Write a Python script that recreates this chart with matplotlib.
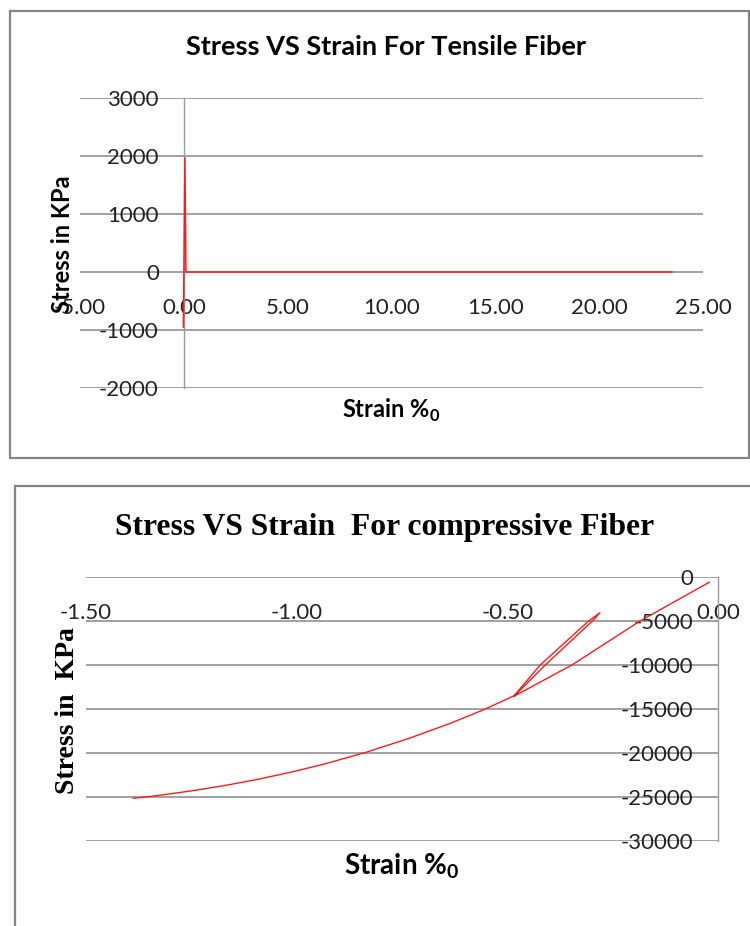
import matplotlib
matplotlib.use("Agg")
import matplotlib.pyplot as plt
from matplotlib.patches import Rectangle
from matplotlib.ticker import FixedLocator, StrMethodFormatter

W, H = 750, 926

# tensile fibre response (strain in per mille, stress in kPa)
tensile_strain = [-0.02, 0.05, 0.10, 23.5]
tensile_stress = [-950, 1970, 0, 0]

# compressive fibre response: loading, unload/reload loop, then softening branch
compressive_strain = [-0.021, -0.185, -0.345, -0.484, -0.410, -0.298, -0.280,
                      -0.307, -0.422, -0.484, -0.557, -0.636, -0.731, -0.834,
                      -0.933, -1.012, -1.091, -1.170, -1.249, -1.329, -1.388]
compressive_stress = [-600, -5000, -9950, -13550, -10000, -5000, -4060,
                      -5000, -10000, -13500, -15100, -16640, -18300, -19900,
                      -21240, -22160, -22980, -23690, -24300, -24830, -25150]

tensile_xticks = [-5, 0, 5, 10, 15, 20, 25]
tensile_yticks = [-2000, -1000, 0, 1000, 2000, 3000]
compressive_xticks = [-1.5, -1.0, -0.5, 0.0]
compressive_yticks = [-30000, -25000, -20000, -15000, -10000, -5000, 0]

plt.rcParams["font.family"] = ["Lato", "DejaVu Sans"]
plt.rcParams["mathtext.fontset"] = "custom"
plt.rcParams["mathtext.rm"] = "Lato"
plt.rcParams["mathtext.bf"] = "Lato:bold"
plt.rcParams["axes.unicode_minus"] = False

GRID = "#9a9a9a"
RED = "#ff1a1a"


def box(left, top, right, bottom):
    return [left / W, 1 - bottom / H, (right - left) / W, (bottom - top) / H]


def fx(x):
    return x / W


def fy(y):
    return 1 - y / H


def style_axes(ax, xticks, yticks, xlim, ylim):
    ax.set_xlim(*xlim)
    ax.set_ylim(*ylim)
    ax.xaxis.set_major_locator(FixedLocator(xticks))
    ax.yaxis.set_major_locator(FixedLocator(yticks))
    ax.xaxis.set_major_formatter(StrMethodFormatter("{x:.2f}"))
    ax.yaxis.set_major_formatter(StrMethodFormatter("{x:.0f}"))
    for side in ["top", "right", "bottom"]:
        ax.spines[side].set_visible(False)
    ax.spines["bottom"].set_position(("data", 0))
    ax.spines["left"].set_position(("data", 0))
    ax.spines["left"].set_color(GRID)
    ax.spines["left"].set_linewidth(1.0)
    ax.tick_params(length=0, labelsize=16, colors="#222222")
    ax.tick_params(axis="x", pad=19)
    ax.tick_params(axis="y", pad=18)
    ax.yaxis.grid(True, color=GRID, linewidth=1.3)
    ax.set_axisbelow(True)
    ax.patch.set_alpha(0)


fig = plt.figure(figsize=(W / 100, H / 100), dpi=100)

# chart frames
fig.patches.append(Rectangle((fx(10), fy(458)), fx(749) - fx(10), fy(11) - fy(458),
                             transform=fig.transFigure, fill=False,
                             edgecolor="#858585", linewidth=1.6))
fig.patches.append(Rectangle((fx(15), fy(940)), fx(760) - fx(15), fy(486) - fy(940),
                             transform=fig.transFigure, fill=False,
                             edgecolor="#858585", linewidth=1.6))

# tensile chart
ax1 = fig.add_axes(box(80, 98, 703, 388))
style_axes(ax1, tensile_xticks, tensile_yticks, (-5, 25), (-2000, 3000))
ax1.plot(tensile_strain, tensile_stress, color=RED, linewidth=1.1, zorder=3)
fig.text(fx(386), fy(47), "Stress VS Strain For Tensile Fiber", fontsize=19.5,
         fontweight="bold", ha="center", va="center")
fig.text(fx(62), fy(244), "Stress in KPa", fontsize=17, fontweight="bold",
         rotation=90, ha="center", va="center")
fig.text(fx(391), fy(410), r"Strain %$_\mathbf{0}$", fontsize=17, fontweight="bold",
         ha="center", va="center")

# compressive chart
ax2 = fig.add_axes(box(86, 577, 718, 841))
style_axes(ax2, compressive_xticks, compressive_yticks, (-1.5, 0), (-30000, 0))
ax2.plot(compressive_strain, compressive_stress, color=RED, linewidth=1.0, zorder=3)
fig.text(fx(385), fy(527), "Stress VS Strain  For compressive Fiber",
         fontsize=22.8, fontweight="bold", family="Liberation Serif",
         ha="center", va="center")
fig.text(fx(67), fy(711), "Stress in  KPa", fontsize=20, fontweight="bold",
         family="Liberation Serif", rotation=90, ha="center", va="center")
fig.text(fx(402), fy(866), r"Strain %$_\mathbf{0}$", fontsize=20, fontweight="bold",
         ha="center", va="center")

fig.savefig("out.png", dpi=100)
